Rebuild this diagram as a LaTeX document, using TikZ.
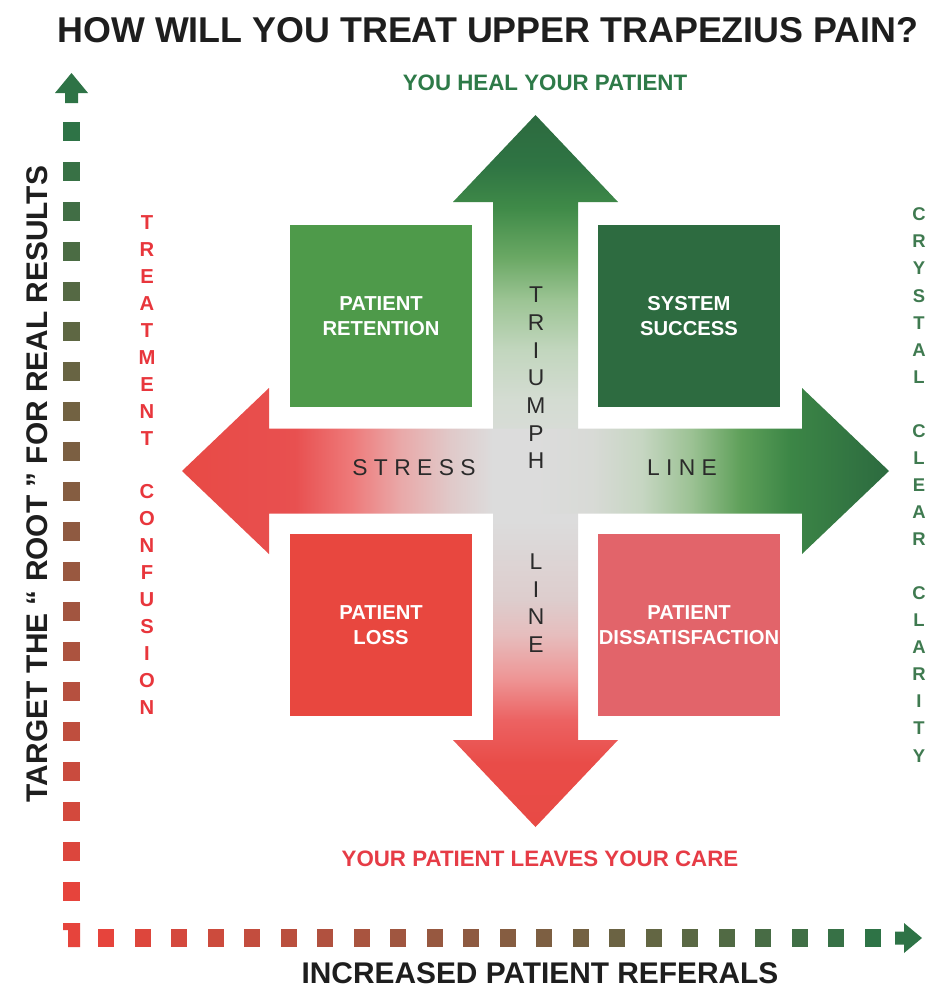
\documentclass[tikz,border=0pt]{standalone}
\usepackage{fontspec}
\setmainfont{Liberation Sans}
\newfontfamily\trackfont[LetterSpace=28]{Liberation Sans}
\usepackage{tikz}
\definecolor{titleblack}{HTML}{1E1E1E}
\definecolor{healgreen}{HTML}{2E7A48}
\definecolor{leavered}{HTML}{E63C46}
\definecolor{confred}{HTML}{E8363C}
\definecolor{clargreen}{HTML}{3F7A50}
\definecolor{retgreen}{HTML}{4E9A4A}
\definecolor{succgreen}{HTML}{2D6B40}
\definecolor{lossred}{HTML}{E8473F}
\definecolor{disred}{HTML}{E2646A}
\definecolor{axisgreen}{HTML}{2E7346}
\definecolor{axisred}{HTML}{E6443C}
\definecolor{lettergray}{HTML}{2A2A2A}
\definecolor{crossgray}{HTML}{DCDCDC}
\definecolor{gA}{HTML}{D4DCD2}
\definecolor{gB}{HTML}{C2D6BE}
\definecolor{gC}{HTML}{9CC494}
\definecolor{gD}{HTML}{6AA864}
\definecolor{gE}{HTML}{3F8A48}
\definecolor{gF}{HTML}{2F7443}
\definecolor{gG}{HTML}{2C6A3F}
\definecolor{hA}{HTML}{D8DAD6}
\definecolor{hB}{HTML}{C6D6C2}
\definecolor{hC}{HTML}{9CC294}
\definecolor{hD}{HTML}{5FA05A}
\definecolor{hE}{HTML}{3C8646}
\definecolor{rA}{HTML}{E84A45}
\definecolor{rB}{HTML}{E94C48}
\definecolor{rC}{HTML}{EC6262}
\definecolor{rD}{HTML}{EE9696}
\definecolor{rE}{HTML}{E6BDBD}
\definecolor{rF}{HTML}{DDCDCD}
\definecolor{lA}{HTML}{E85050}
\definecolor{lB}{HTML}{EE7A7A}
\definecolor{lC}{HTML}{E9A9A9}
\definecolor{lD}{HTML}{E0C9C9}
\pgfdeclareverticalshading{greenup}{100bp}{color(0bp)=(crossgray); color(25bp)=(crossgray);
  color(35bp)=(gA); color(42bp)=(gB); color(49bp)=(gC); color(55bp)=(gD); color(62bp)=(gE);
  color(68bp)=(gF); color(75bp)=(gG); color(100bp)=(gG)}
\pgfdeclareverticalshading{reddown}{100bp}{color(0bp)=(rA); color(25bp)=(rA);
  color(34bp)=(rB); color(40bp)=(rC); color(46bp)=(rD); color(52bp)=(rE); color(57bp)=(rF);
  color(68bp)=(crossgray); color(100bp)=(crossgray)}
\pgfdeclarehorizontalshading{redleft}{100bp}{color(0bp)=(rA); color(25bp)=(rA);
  color(41bp)=(lA); color(49bp)=(lB); color(56bp)=(lC); color(63bp)=(lD);
  color(69bp)=(crossgray); color(100bp)=(crossgray)}
\pgfdeclarehorizontalshading{greenright}{100bp}{color(0bp)=(crossgray); color(25bp)=(crossgray);
  color(33bp)=(hA); color(40bp)=(hB); color(47bp)=(hC); color(54bp)=(hD); color(61bp)=(hE);
  color(75bp)=(gG); color(100bp)=(gG)}

\begin{document}
\begin{tikzpicture}[x=0.02cm, y=-0.02cm,
    box/.style={minimum width=3.66cm, minimum height=3.66cm, inner sep=0pt, align=center,
      text=white, font=\fontsize{11.5}{14.2}\selectfont\bfseries},
    caption/.style={inner sep=0pt, font=\fontsize{12.7}{15}\selectfont\bfseries},
    stack/.style={inner sep=0pt, align=center}]
  \useasboundingbox (0,0) rectangle (935,991);
  \fill[white] (0,0) rectangle (935,991);

  \node[inner sep=0pt, text=titleblack, font=\fontsize{20.4}{24}\selectfont\bfseries] (title) at (488,30)
    {HOW WILL YOU TREAT UPPER TRAPEZIUS PAIN?};
  \node[caption, text=healgreen] (heal) at (545,83) {YOU HEAL YOUR PATIENT};
  \node[caption, text=leavered] (leave) at (540,859) {YOUR PATIENT LEAVES YOUR CARE};

  \shade[shading=greenup] (493,471) -- (493,202) -- (453,202) -- (535.5,115) -- (618,202)
    -- (578,202) -- (578,471) -- cycle;
  \shade[shading=reddown] (493,471) -- (493,740) -- (453,740) -- (535.5,827) -- (618,740)
    -- (578,740) -- (578,471) -- cycle;
  \shade[shading=redleft] (535.5,428.5) -- (269,428.5) -- (269,388) -- (182,471) -- (269,554)
    -- (269,513.5) -- (535.5,513.5) -- cycle;
  \shade[shading=greenright] (535.5,428.5) -- (802,428.5) -- (802,388) -- (889,471) -- (802,554)
    -- (802,513.5) -- (535.5,513.5) -- cycle;

  \node[box, fill=retgreen] (ret) at (381,316) {PATIENT\\RETENTION};
  \node[box, fill=succgreen] (succ) at (689,316) {SYSTEM\\SUCCESS};
  \node[box, fill=lossred] (loss) at (381,625) {PATIENT\\LOSS};
  \node[box, fill=disred] (dis) at (689,625) {PATIENT\\DISSATISFACTION};

  \node[stack, text=lettergray, font=\fontsize{13}{15.76}\selectfont] (tri) at (536,378)
    {T\\R\\I\\U\\M\\P\\H};
  \node[stack, text=lettergray, font=\fontsize{13}{15.76}\selectfont] (vline) at (536,603)
    {L\\I\\N\\E};
  \node[inner sep=0pt, text=lettergray, font=\trackfont\fontsize{13}{15}\selectfont] (stress) at (414,468) {STRESS};
  \node[inner sep=0pt, text=lettergray, font=\trackfont\fontsize{13}{15}\selectfont] (hline) at (682,468) {LINE};

  \node[stack, text=confred, font=\fontsize{11.5}{15.31}\selectfont\bfseries] (conf) at (147,465)
    {T\\R\\E\\A\\T\\M\\E\\N\\T\\~\\C\\O\\N\\F\\U\\S\\I\\O\\N};
  \node[stack, text=clargreen, font=\fontsize{10.5}{15.4}\selectfont\bfseries] (clar) at (919,485)
    {C\\R\\Y\\S\\T\\A\\L\\~\\C\\L\\E\\A\\R\\~\\C\\L\\A\\R\\I\\T\\Y};

  \fill[axisgreen] (71.5,73) -- (88,93) -- (78,93) -- (78,103) -- (65,103) -- (65,93) -- (55,93) -- cycle;
  \foreach \k in {0,...,19} {
    \pgfmathsetmacro\mixp{100*\k/19}
    \fill[fill=axisred!\mixp!axisgreen] (63,122+40*\k) rectangle ++(17,19);
  }
  \fill[axisred] (63,923) -- (80,923) -- (80,947) -- (68,947) -- (68,930) -- (63,930) -- cycle;
  \foreach \k in {0,...,21} {
    \pgfmathsetmacro\mixp{100*\k/21}
    \fill[fill=axisgreen!\mixp!axisred] (98+36.5*\k,929) rectangle ++(16,18);
  }
  \fill[axisgreen] (922,938) -- (904,953) -- (904,944.5) -- (895,944.5) -- (895,931.5) -- (904,931.5)
    -- (904,923) -- cycle;

  \node[rotate=90, inner sep=0pt, text=titleblack, font=\fontsize{17}{20}\selectfont\bfseries] (yaxis) at (37,484)
    {TARGET THE “ ROOT ” FOR REAL RESULTS};
  \node[inner sep=0pt, text=titleblack, font=\fontsize{17}{20}\selectfont\bfseries] (xaxis) at (540,973)
    {INCREASED PATIENT REFERALS};
\end{tikzpicture}
\end{document}
